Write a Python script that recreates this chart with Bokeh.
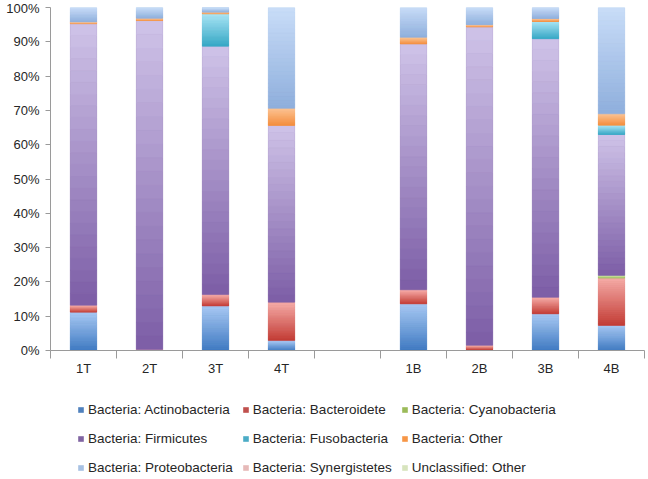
from bokeh.plotting import figure
from bokeh.layouts import column
from bokeh.models import (LinearAxis, FixedTicker, NumeralTickFormatter, Legend,
                          LegendItem, Range1d, FactorRange, ColumnDataSource)
from bokeh.embed import file_html
from bokeh.resources import INLINE

samples = ["1T", "2T", "3T", "4T", " ", "1B", "2B", "3B", "4B"]

series_labels = ["Bacteria: Actinobacteria", "Bacteria: Bacteroidete", "Bacteria: Cyanobacteria",
                 "Bacteria: Firmicutes", "Bacteria: Fusobacteria", "Bacteria: Other",
                 "Bacteria: Proteobacteria", "Bacteria: Synergistetes", "Unclassified: Other"]

# percent values per sample
actinobacteria = [11.2, 0.0, 13.0, 2.9, 0.0, 13.6, 0.3, 10.7, 7.3]
bacteroidete   = [2.0, 0.3, 3.3, 11.2, 0.0, 4.1, 1.2, 4.8, 13.9]
cyanobacteria  = [0.0, 0.0, 0.0, 0.0, 0.0, 0.0, 0.0, 0.0, 0.7]
firmicutes     = [82.1, 95.9, 72.4, 51.5, 0.0, 71.7, 92.9, 75.4, 41.1]
fusobacteria   = [0.0, 0.0, 9.5, 0.0, 0.0, 0.0, 0.0, 5.1, 2.7]
other          = [0.5, 0.7, 0.5, 5.0, 0.0, 1.9, 0.6, 0.8, 3.3]
proteobacteria = [4.2, 3.1, 1.3, 29.4, 0.0, 8.7, 5.0, 3.2, 31.0]
synergistetes  = [0.0, 0.0, 0.0, 0.0, 0.0, 0.0, 0.0, 0.0, 0.0]
unclassified   = [0.0, 0.0, 0.0, 0.0, 0.0, 0.0, 0.0, 0.0, 0.0]

y_ticks = [0.0, 0.1, 0.2, 0.3, 0.4, 0.5, 0.6, 0.7, 0.8, 0.9, 1.0]

# legend / base colours
colors = ["#4f81bd", "#c0504d", "#9bbb59", "#8064a2", "#4bacc6", "#f79646",
          "#a7c1e3", "#e6b9b8", "#d7e4bd"]
# gradient end colours of each segment (bottom, top)
grad_bottom = ["#3f7ac2", "#c23b34", "#98b958", "#7c5da6", "#35a7c5", "#f48d3c",
               "#8eaedc", "#e29b9a", "#c6da9e"]
grad_top = ["#aacaf4", "#f7aeaa", "#cfe5a3", "#cfc3e8", "#ace6f6", "#fcc495",
            "#c9ddf8", "#f6d0cf", "#e8f1d6"]

keys = ["act", "bac", "cya", "fir", "fus", "oth", "pro", "syn", "unc"]
values = [actinobacteria, bacteroidete, cyanobacteria, firmicutes, fusobacteria,
          other, proteobacteria, synergistetes, unclassified]

data = {"sample": samples}
for k, v in zip(keys, values):
    data[k] = [x / 100.0 for x in v]
source = ColumnDataSource(data)

FONT = "Liberation Sans"
TEXT = "#262626"
AXIS = "#9a9a9a"

p = figure(x_range=FactorRange(factors=samples, range_padding=0),
           y_range=Range1d(0, 1),
           width=646, height=385,
           x_axis_type=None, y_axis_type=None,
           output_backend="svg", toolbar_location=None,
           min_border_left=50, min_border_right=2, min_border_top=7, min_border_bottom=35)
p.outline_line_color = None
p.background_fill_color = "white"

renderers = p.vbar_stack(keys, x="sample", width=0.4, color=colors, source=source,
                         line_color=None)


# shaded overlay: each stacked segment is split into thin slices with a vertical colour ramp
def hex2rgb(h):
    return tuple(int(h[i:i + 2], 16) for i in (1, 3, 5))


def mix(c0, c1, f):
    a, b = hex2rgb(c0), hex2rgb(c1)
    return "#%02x%02x%02x" % tuple(int(round(a[i] + (b[i] - a[i]) * f)) for i in range(3))


NS = 24
gx, gb, gt, gc = [], [], [], []
for j, s in enumerate(samples):
    base = 0.0
    for si, k in enumerate(keys):
        h = data[k][j]
        if h > 0:
            for n in range(NS):
                gx.append(s)
                gb.append(base + h * n / NS)
                gt.append(base + h * (n + 1) / NS)
                gc.append(mix(grad_bottom[si], grad_top[si], (n + 0.5) / NS))
        base += h
shade = ColumnDataSource(dict(x=gx, bottom=gb, top=gt, color=gc))
p.vbar(x="x", bottom="bottom", top="top", width=0.4, fill_color="color",
       line_color="color", line_width=0.6, source=shade)

# y axis
yaxis = LinearAxis(ticker=FixedTicker(ticks=y_ticks),
                   formatter=NumeralTickFormatter(format="0%"))
yaxis.axis_line_color = AXIS
yaxis.major_tick_line_color = AXIS
yaxis.major_tick_out = 5
yaxis.major_tick_in = 0
yaxis.minor_tick_line_color = None
yaxis.major_label_standoff = 6
yaxis.major_label_text_font = FONT
yaxis.major_label_text_font_size = "13px"
yaxis.major_label_text_color = TEXT
p.add_layout(yaxis, "left")
p.ygrid.ticker = FixedTicker(ticks=y_ticks)
p.ygrid.grid_line_color = "#a8a8a8"

# x axis: labels at bar centres, tick marks at category boundaries
centres = [i + 0.5 for i in range(len(samples))]
bounds = [float(i) for i in range(len(samples) + 1)]
xaxis = LinearAxis(ticker=FixedTicker(ticks=centres, minor_ticks=bounds))
xaxis.major_label_overrides = {c: s for c, s in zip(centres, samples)}
xaxis.axis_line_color = AXIS
xaxis.major_tick_line_color = None
xaxis.major_tick_out = 0
xaxis.major_tick_in = 0
xaxis.minor_tick_line_color = AXIS
xaxis.minor_tick_out = 8
xaxis.minor_tick_in = 0
xaxis.major_label_standoff = 2
xaxis.major_label_text_font = FONT
xaxis.major_label_text_font_size = "13px"
xaxis.major_label_text_color = TEXT
p.add_layout(xaxis, "below")

# legend panel underneath the chart (its renderers hold one row of zero-height bars)
leg_src = ColumnDataSource({"sample": [samples[0]], **{k: [0.0] for k in keys}})
p2 = figure(x_range=FactorRange(factors=samples), y_range=Range1d(0, 1),
            width=646, height=93, x_axis_type=None, y_axis_type=None,
            output_backend="svg", toolbar_location=None,
            min_border_left=0, min_border_right=0, min_border_top=0, min_border_bottom=0)
p2.outline_line_color = None
p2.xgrid.visible = False
p2.ygrid.visible = False
leg_renderers = p2.vbar_stack(keys, x="sample", width=0.4, color=colors, source=leg_src,
                              line_color=None)

items = [LegendItem(label=lab, renderers=[r]) for lab, r in zip(series_labels, leg_renderers)]
legend = Legend(items=items, orientation="horizontal", ncols=3, location=(27, 1))
legend.label_text_font = FONT
legend.label_text_font_size = "13.5px"
legend.label_text_color = TEXT
legend.glyph_width = 7
legend.glyph_height = 7
legend.label_standoff = 4
legend.label_height = 20
legend.spacing = 9
legend.padding = 0
legend.margin = 0
legend.border_line_alpha = 0
legend.background_fill_alpha = 0
p2.add_layout(legend, "center")

open("out.html", "w").write(file_html(column(p, p2), INLINE))
